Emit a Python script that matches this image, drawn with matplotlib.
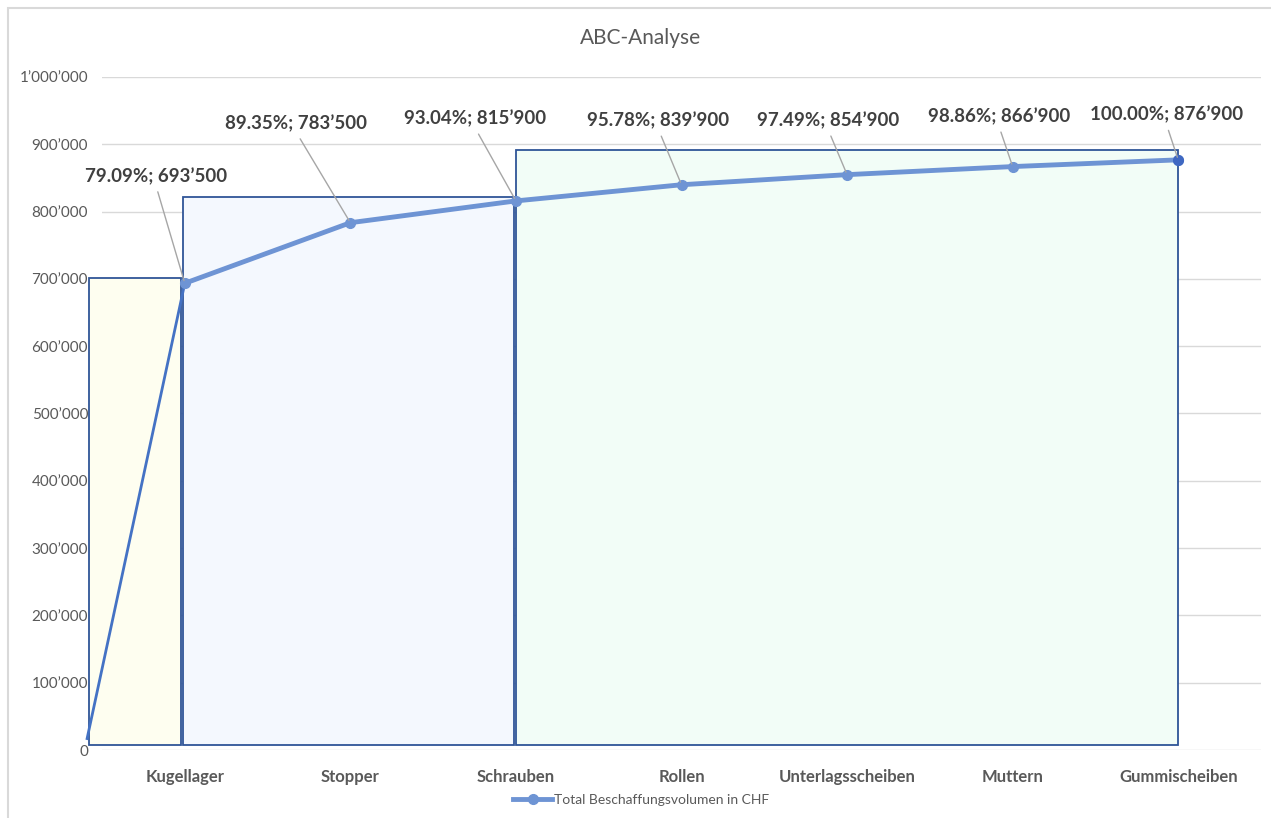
import matplotlib
matplotlib.use('Agg')
import matplotlib.pyplot as plt
from matplotlib.patches import Rectangle
from matplotlib.ticker import FuncFormatter

# data
categories = ['Kugellager', 'Stopper', 'Schrauben', 'Rollen',
              'Unterlagsscheiben', 'Muttern', 'Gummischeiben']
cumulative = [693500, 783500, 815900, 839900, 854900, 866900, 876900]
start_x, start_y = -0.59, 17000   # where the first segment leaves the chart

# ABC zones: (x0, x1, top, fill)
zones = [(-0.58, -0.024, 701000, '#FEFEF0'),
         (-0.012, 1.987, 822000, '#F4F8FE'),
         (1.999, 6.0, 891000, '#F2FDF7')]
zone_bottom = 7000

# label offsets in pixels (dx, dy) from the point
label_offsets = [(-29, 107), (-54, 99), (-41, 82), (-23, 64),
                 (-19, 54), (-14, 50), (-12, 45)]

plt.rcParams['font.family'] = ['Lato', 'DejaVu Sans']

def fmt(v, pos=None):
    return f'{v:,.0f}'.replace(',', '\u2019')

fig = plt.figure(figsize=(12.71, 8.18), dpi=100)
ax = fig.add_axes([102 / 1271, 1 - 750 / 818, (1261 - 102) / 1271, (750 - 77) / 818])

# outer chart border
fig.patches.append(Rectangle((8 / 1271, -0.01), 1.02, 1 - 8 / 818 + 0.01,
                             transform=fig.transFigure, fill=False,
                             edgecolor='#D9D9D9', lw=1.5))

x = list(range(len(categories)))
ax.set_xlim(-0.5, len(categories) - 0.5)
ax.set_ylim(0, 1000000)
ax.set_yticks(range(0, 1000001, 100000))
ax.yaxis.set_major_formatter(FuncFormatter(fmt))
ax.set_xticks(x)
ax.set_xticklabels(categories, fontweight='bold', fontsize=12, color='#595959')
ax.tick_params(axis='y', length=0, pad=10, labelsize=11, labelcolor='#595959')
ax.tick_params(axis='x', length=0, pad=14)
ax.grid(axis='y', color='#D9D9D9', lw=1)
ax.set_axisbelow(True)
for s in ax.spines.values():
    s.set_visible(False)

for x0, x1, top, fc in zones:
    ax.add_patch(Rectangle((x0, zone_bottom), x1 - x0, top - zone_bottom,
                           facecolor=fc, edgecolor='#2F5597', lw=1.3,
                           clip_on=False, zorder=2))

# first segment is thinner
ax.plot([start_x, x[0]], [start_y, cumulative[0]], color='#4472C4', lw=2,
        clip_on=False, zorder=3)
ax.plot(x, cumulative, color='#6E94D4', lw=3.5, marker='o', ms=7,
        mfc='#6E94D4', mec='#6E94D4', zorder=4,
        label='Total Beschaffungsvolumen in CHF')
ax.plot(x[-1], cumulative[-1], 'o', ms=7, color='#3F68C2', zorder=5)

total = cumulative[-1]
for xi, v, (dx, dy) in zip(x, cumulative, label_offsets):
    ax.annotate(f'{v / total * 100:.2f}%; {fmt(v)}', (xi, v),
                xytext=(dx, dy), textcoords='offset pixels',
                ha='center', va='center', fontsize=13.5, fontweight='bold',
                color='#404040', zorder=6,
                arrowprops=dict(arrowstyle='-', color='#A6A6A6', lw=1,
                                relpos=(0.5, 0), shrinkA=3, shrinkB=2))

fig.text(641 / 1271, 1 - 38 / 818, 'ABC-Analyse', ha='center', va='center',
         fontsize=15, color='#595959')

fig.legend(loc='center', bbox_to_anchor=(641 / 1271, 1 - 800 / 818),
           frameon=False, fontsize=10, labelcolor='#595959',
           handlelength=2.8, handletextpad=0.1)

fig.savefig('out.png', dpi=100)
